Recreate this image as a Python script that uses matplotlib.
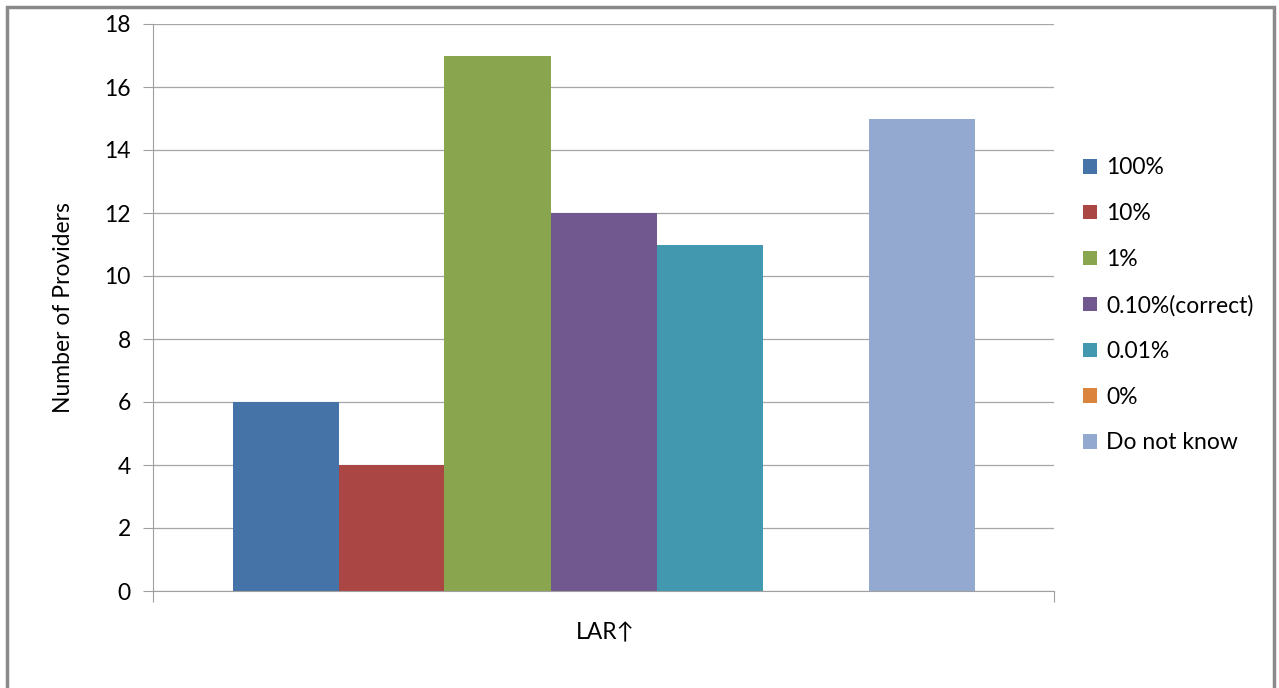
import matplotlib.pyplot as plt
from matplotlib.patches import Rectangle, Patch

# survey answers for the LAR question
answers = ["100%", "10%", "1%", "0.10%(correct)", "0.01%", "0%", "Do not know"]
counts = [6, 4, 17, 12, 11, 0, 15]
colors = ["#4572A7", "#AA4643", "#89A54E", "#71588F", "#4198AF", "#DB843D", "#93A9CF"]
yticks = [0, 2, 4, 6, 8, 10, 12, 14, 16, 18]

plt.rcParams['font.family'] = ['Lato', 'DejaVu Sans']

W, H = 1279, 688
fig = plt.figure(figsize=(W / 100, H / 100), dpi=100)
ax = fig.add_axes([153 / W, 1 - 591 / H, (1054 - 153) / W, (591 - 24) / H])

# bars sit side by side around the middle of the axis
bw = 106 / 901
for i, (c, col) in enumerate(zip(counts, colors)):
    ax.bar(0.5 + (i - 3) * bw, c, width=bw, color=col, zorder=2)

ax.set_xlim(0, 1)
ax.set_ylim(0, 18)
ax.set_yticks(yticks)
ax.set_xticks([0, 1])
ax.set_xticklabels([])
ax.grid(axis='y', color='#a6a6a6', linewidth=0.9, zorder=0)
for s in ['top', 'right']:
    ax.spines[s].set_visible(False)
for s in ['left', 'bottom']:
    ax.spines[s].set_color('#a0a0a0')
ax.tick_params(axis='y', length=7, color='#a0a0a0', labelsize=16.5, pad=9)
ax.tick_params(axis='x', length=8, color='#a0a0a0')

ax.set_ylabel("Number of Providers", fontsize=16.5, labelpad=22)
fig.text(605 / W, 1 - 633 / H, "LAR↑", fontsize=16.5, ha='center', va='center')

handles = [Patch(facecolor=col, edgecolor='none') for col in colors]
fig.legend(handles, answers, loc='upper left', bbox_to_anchor=(1072 / W, 1 - 146 / H),
           frameon=False, fontsize=16.5, handlelength=0.6, handleheight=0.6,
           handletextpad=0.4, labelspacing=1.08, borderpad=0)

# outer chart frame
fig.patches.append(Rectangle((7 / W, -0.05), (1274 - 7) / W, 1.05 - 7 / H,
                             transform=fig.transFigure, fill=False,
                             edgecolor='#8a8a8a', linewidth=2.5))

fig.savefig("out.png", dpi=100)
